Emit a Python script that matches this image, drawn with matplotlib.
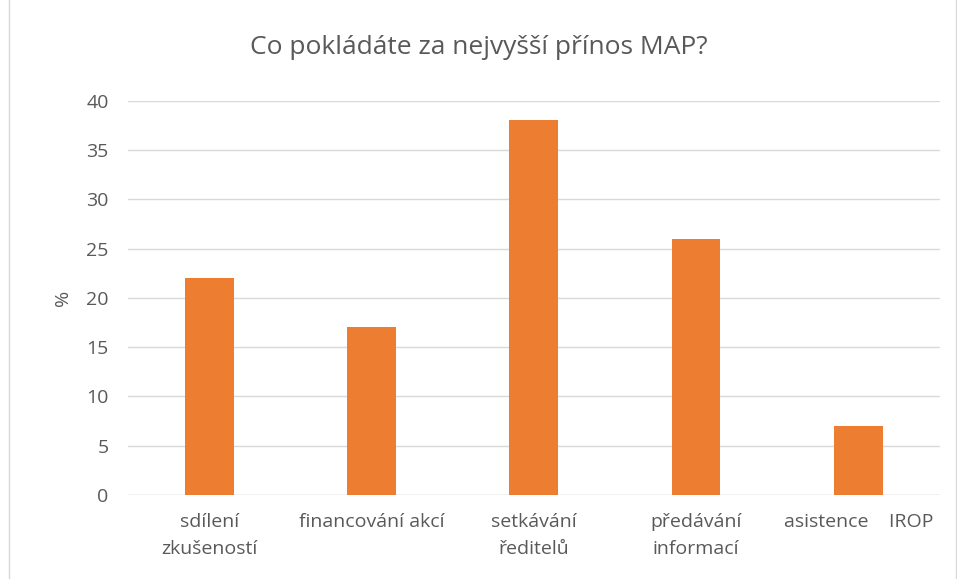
import matplotlib
matplotlib.use('Agg')
import matplotlib.pyplot as plt
from matplotlib.patches import Rectangle

plt.rcParams['font.family'] = ['Open Sans', 'DejaVu Sans']

categories = ['sdílení\nzkušeností', 'financování akcí', 'setkávání\nředitelů',
              'předávání\ninformací', 'asistence    IROP']
values = [22, 17, 38, 26, 7]
yticks = [0, 5, 10, 15, 20, 25, 30, 35, 40]

TEXT = '#595959'
BAR = '#ED7D31'
GRID = '#D9D9D9'

fig = plt.figure(figsize=(9.57, 5.79), dpi=100)
ax = fig.add_axes([0.1338, 0.145, 0.848, 0.681])

x = range(len(categories))
ax.bar(x, values, width=0.3, color=BAR, zorder=3)

ax.set_xlim(-0.5, len(categories) - 0.5)
ax.set_ylim(0, 40)
ax.set_yticks(yticks)
ax.set_xticks(list(x))
ax.set_xticklabels(categories, fontsize=14, color=TEXT, linespacing=1.6)
ax.tick_params(axis='y', labelsize=14, colors=TEXT, length=0, pad=14)
ax.tick_params(axis='x', length=0, pad=13)
ax.yaxis.grid(True, color=GRID, linewidth=1, zorder=0)
for s in ax.spines.values():
    s.set_visible(False)
ax.axhline(0, color=GRID, linewidth=1, zorder=2)

ax.set_ylabel('%', fontsize=14, color=TEXT, labelpad=10)

fig.text(0.5, 0.918, 'Co pokládáte za nejvyšší přínos MAP?', ha='center', va='center',
         fontsize=19, color=TEXT)

fig.patches.append(Rectangle((0.009, -0.01), 0.99, 1.02, transform=fig.transFigure,
                             fill=False, edgecolor='#D9D9D9', linewidth=1))

fig.savefig('out.png', dpi=100)
